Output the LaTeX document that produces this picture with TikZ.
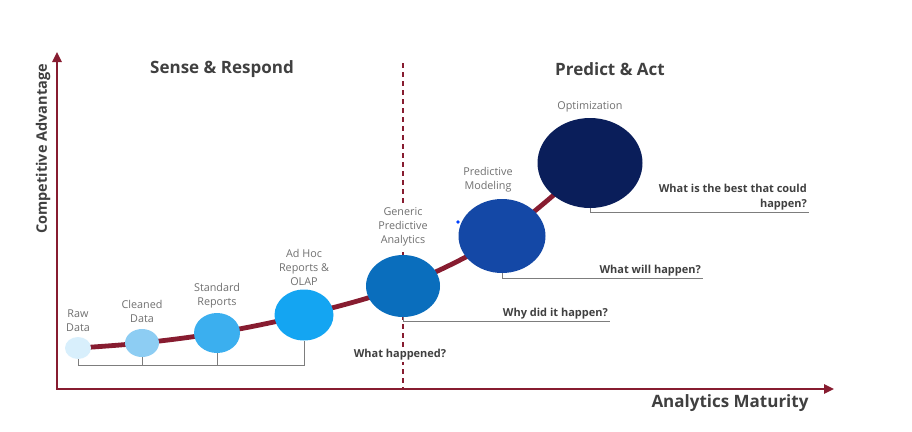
\documentclass[tikz,border=0pt]{standalone}
\usepackage{fontspec}
\setmainfont{Open Sans}
\usepackage{tikz}
\usetikzlibrary{arrows.meta, positioning, shapes.geometric, backgrounds}
\definecolor{axisred}{RGB}{135,28,48}
\definecolor{titlegray}{RGB}{64,64,64}
\definecolor{lblgray}{RGB}{112,112,112}
\definecolor{leadgray}{RGB}{125,125,125}
\definecolor{rawblue}{RGB}{216,239,252}
\definecolor{cleanblue}{RGB}{141,205,243}
\definecolor{stdblue}{RGB}{59,175,239}
\definecolor{adhocblue}{RGB}{20,165,242}
\definecolor{genblue}{RGB}{10,110,189}
\definecolor{predblue}{RGB}{20,72,166}
\definecolor{optblue}{RGB}{10,30,90}

\begin{document}
\begin{tikzpicture}[x=1pt, y=-1pt,
  stage/.style={ellipse, inner sep=0pt},
  stagelbl/.style={align=center, text=lblgray, fill=white, inner sep=1.5pt,
    font=\fontsize{10.8}{14}\selectfont},
  question/.style={align=right, text=titlegray, inner sep=2pt,
    font=\fontsize{11}{15}\selectfont\bfseries},
  phase/.style={text=titlegray, font=\fontsize{17}{20}\selectfont\bfseries},
  leader/.style={leadgray, line width=0.9pt},
  axis/.style={axisred, line width=2.4pt,
    {Triangle[length=10pt, width=9pt]}-{Triangle[length=10pt, width=9pt]}},
  divider/.style={axisred, line width=1.4pt, dash pattern=on 5pt off 4pt},
  trend/.style={axisred, line width=4.8pt}]
  \useasboundingbox (0,0) rectangle (912,431);

  % Axes
  \coordinate (origin) at (57,389);
  \coordinate (ytip) at (57,52);
  \coordinate (xtip) at (834,389);
  \draw[axis] (ytip) -- (origin) -- (xtip);
  \node[rotate=90, phase, font=\fontsize{14.5}{17}\selectfont\bfseries]
    (yname) at (43,149) {Competitive Advantage};
  \node[phase] (xname) at (730,403) {Analytics Maturity};

  % Phase titles
  \node[phase] (sensettl) at (222,69) {Sense \& Respond};
  \node[phase] (predictttl) at (610,69) {Predict \& Act};

  % Stages (name/x/y/rx/ry/colour)
  \foreach \nm/\x/\y/\rx/\ry/\col in {raw/78/348/13/11/rawblue,
      clean/142/343/17/14/cleanblue, std/217/333/23/20/stdblue,
      adhoc/304/315/29.5/25.5/adhocblue, generic/403/286/37/31/genblue,
      model/502/236/43.5/37/predblue, optim/590/163/52.5/45/optblue} {
    \node[stage, fill=\col, minimum width=2*\rx pt, minimum height=2*\ry pt]
      (\nm) at (\x,\y) {};
  }

  % Stage labels
  \foreach \nm/\x/\y/\txt in {raw/78/321/{Raw\\Data},
      clean/142/311/{Cleaned\\Data}, std/217/296/{Standard\\Reports},
      adhoc/304/267/{Ad Hoc\\Reports \&\\OLAP},
      generic/403/227/{Generic\\Predictive\\Analytics},
      model/488/180/{Predictive\\Modeling}, optim/590/107/{Optimization}} {
    \node[stagelbl] (\nm lbl) at (\x,\y) {\txt};
  }

  % Growth curve and divider behind the stages
  \begin{scope}[on background layer]
    \coordinate (divtop) at (403,63);
    \draw[divider] (divtop) -- (divtop |- origin);
    \draw[trend] plot[smooth, tension=0.55] coordinates {(raw.center)
      (clean.center) (std.center) (adhoc.center) (generic.center)
      (model.center) (optim.center)};
  \end{scope}

  % Bracket under the first stages
  \coordinate (brk) at (0,365);
  \draw[leader] (raw.south) -- (raw.south |- brk) -- (adhoc.south |- brk)
    -- (adhoc.south);
  \draw[leader] (clean.south) -- (clean.south |- brk);
  \draw[leader] (std.south) -- (std.south |- brk);
  \node[question, fill=white, inner sep=1pt] (happened) at (400,355)
    {What happened?};

  % Questions
  \node[question, anchor=south east] (why) at (610,321) {Why did it happen?};
  \draw[leader] (generic.south) |- (why.south east);
  \node[question, anchor=south east] (will) at (703,278) {What will happen?};
  \draw[leader] (model.south) |- (will.south east);
  \node[question, anchor=south east] (best) at (809,212)
    {What is the best that could\\happen?};
  \draw[leader] (optim.south) |- (best.south east);

  % Stray marker
  \node[circle, fill=blue!75!cyan, inner sep=1.4pt] (dot) at (458,222) {};

\end{tikzpicture}
\end{document}
